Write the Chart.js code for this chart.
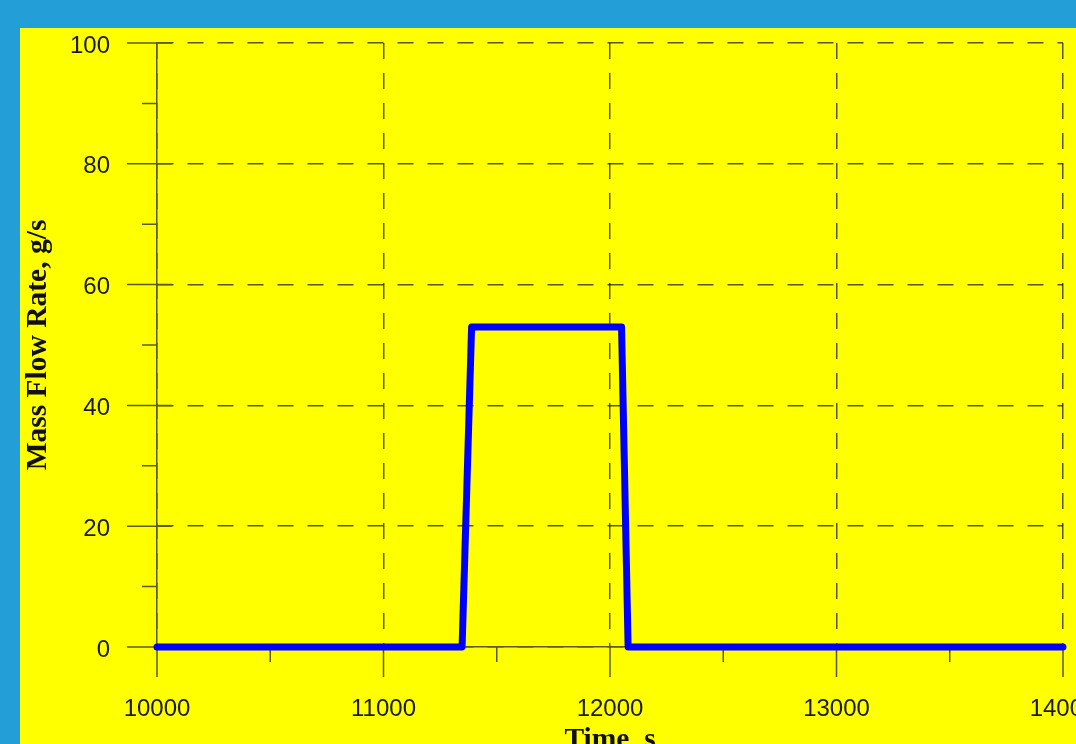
<!DOCTYPE html>
<html>
<head>
<meta charset="utf-8">
<script src="https://cdn.jsdelivr.net/npm/chart.js@4"></script>
<style>
  html, body { margin: 0; padding: 0; width: 1076px; height: 744px; overflow: hidden; background: #239ed7; }
  #panel { position: absolute; left: 20px; top: 28px; width: 1083px; height: 727px; background: #ffff00; }
</style>
</head>
<body>
<div id="panel"><canvas id="flowChart" width="1083" height="727"></canvas></div>
<script>
// time (s) and mass flow rate (g/s)
const timeValues = [10000, 11347, 11389, 12051, 12080, 14000]
const flowValues = [0, 0, 53, 53, 0, 0]

const xMajor = [10000, 11000, 12000, 13000, 14000]
const xMinor = [10500, 11500, 12500, 13500]
const yMajor = [0, 20, 40, 60, 80, 100]
const yMinor = [10, 30, 50, 70, 90]

var axisColor = '#5c5c00'
var labelFont = { family: "'Liberation Sans', Arial, sans-serif", size: 24 }
var titleFont = { family: "'Liberation Serif', 'Times New Roman', serif", size: 29.5, weight: 'bold', lineHeight: 1 }

// short tick marks outside the plot, like the original figure
var tickMarks = {
    id: 'tickMarks',
    beforeDatasetsDraw: function(chart) {
        var ctx = chart.ctx
        var xs = chart.scales.x, ys = chart.scales.y
        var left = chart.chartArea.left, bottom = chart.chartArea.bottom
        ctx.save()
        ctx.strokeStyle = axisColor
        ctx.lineWidth = 1.5
        ctx.beginPath()
        for (i = 0; i < yMajor.length; i++) {
            var py = ys.getPixelForValue(yMajor[i])
            ctx.moveTo(left - 30, py); ctx.lineTo(left + 15, py)
        }
        for (i = 0; i < yMinor.length; i++) {
            var py = ys.getPixelForValue(yMinor[i])
            ctx.moveTo(left - 15, py); ctx.lineTo(left, py)
        }
        for (i = 0; i < xMajor.length; i++) {
            var px = xs.getPixelForValue(xMajor[i])
            ctx.moveTo(px, bottom); ctx.lineTo(px, bottom + 30)
        }
        for (i = 0; i < xMinor.length; i++) {
            var px = xs.getPixelForValue(xMinor[i])
            ctx.moveTo(px, bottom); ctx.lineTo(px, bottom + 15)
        }
        ctx.stroke()
        ctx.restore()
    }
}

var points = []
for (i = 0; i < timeValues.length; i++) {
    points.push({ x: timeValues[i], y: flowValues[i] })
}

var ctx = document.getElementById('flowChart').getContext('2d')
var flowChart = new Chart(ctx, {
    type: 'line',
    data: {
        datasets: [{
            label: 'Mass Flow Rate',
            data: points,
            borderColor: '#0000ff',
            borderWidth: 7,
            borderJoinStyle: 'round',
            borderCapStyle: 'round',
            pointRadius: 0,
            tension: 0,
            fill: false,
            clip: false
        }]
    },
    options: {
        responsive: false,
        animation: false,
        layout: { padding: { left: 0, right: 40, top: 15, bottom: 0 } },
        plugins: {
            legend: { display: false },
            tooltip: { enabled: false }
        },
        scales: {
            x: {
                type: 'linear',
                min: 10000,
                max: 14000,
                afterBuildTicks: function(s) { s.ticks = xMajor.map(v => ({ value: v })) },
                afterFit: function(s) { s.height = 108 },
                // invisible tick length is used as the label gap
                grid: { color: 'rgba(0,0,0,0.65)', lineWidth: 1.5, drawTicks: true, tickLength: 48, tickColor: 'rgba(0,0,0,0)' },
                border: { display: true, color: axisColor, width: 1.5, dash: [16, 14] },
                ticks: {
                    color: '#1a1a1a',
                    font: labelFont,
                    padding: 0,
                    maxRotation: 0,
                    callback: function(v) { return String(v) }
                },
                title: {
                    display: true,
                    text: 'Time, s',
                    color: '#111',
                    font: titleFont,
                    padding: { top: 0, bottom: 0 }
                }
            },
            y: {
                min: 0,
                max: 100,
                afterBuildTicks: function(s) { s.ticks = yMajor.map(v => ({ value: v })) },
                afterFit: function(s) { s.width = 137 },
                grid: { color: 'rgba(0,0,0,0.65)', lineWidth: 1.5, drawTicks: true, tickLength: 47, tickColor: 'rgba(0,0,0,0)' },
                border: { display: true, color: axisColor, width: 1.5, dash: [16, 14] },
                ticks: {
                    color: '#1a1a1a',
                    font: labelFont,
                    padding: 0,
                    labelOffset: 3,
                    callback: function(v) { return String(v) }
                },
                title: {
                    display: true,
                    text: 'Mass Flow Rate, g/s',
                    color: '#111',
                    font: titleFont,
                    padding: { top: 4, bottom: 0 }
                }
            }
        }
    },
    plugins: [tickMarks]
})
</script>
</body>
</html>
